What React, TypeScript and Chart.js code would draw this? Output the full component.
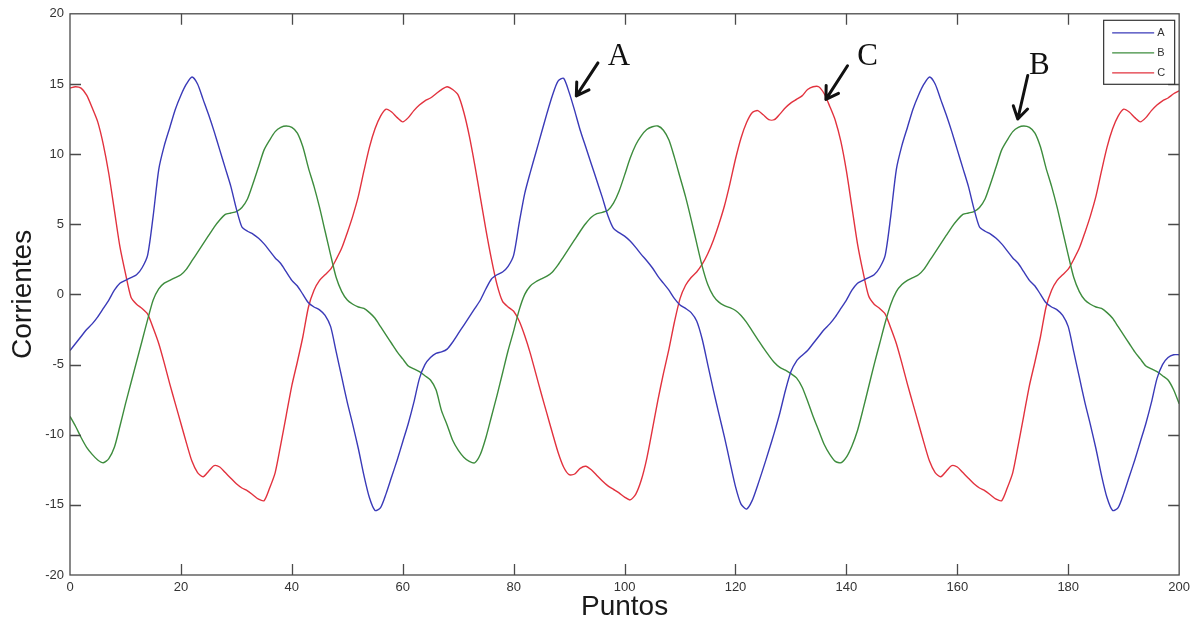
import React, { useEffect, useRef } from "react";
import { Chart, registerables } from "chart.js";

Chart.register(...registerables);

// ---- axis ranges / ticks ----
const X_MIN = 0;
const X_MAX = 200;
const X_STEP = 20;
const Y_MIN = -20;
const Y_MAX = 20;
const Y_STEP = 5;
const X_TITLE = "Puntos";
const Y_TITLE = "Corrientes";

// ---- series (one value per point, x = 0..200) ----
const SERIES_A = [
  -4.0, -3.5, -3.0, -2.5, -2.1, -1.6, -1.0, -0.4, 0.3, 0.8,
  1.0, 1.2, 1.4, 1.9, 2.8, 5.6, 8.9, 10.6, 11.9, 13.2,
  14.2, 15.0, 15.5, 15.0, 13.9, 12.8, 11.6, 10.3, 9.0, 7.7,
  6.1, 4.8, 4.5, 4.3, 4.0, 3.6, 3.1, 2.6, 2.2, 1.6,
  1.0, 0.6, 0.0, -0.6, -0.9, -1.1, -1.5, -2.3, -4.1, -5.9,
  -7.7, -9.3, -11.0, -12.9, -14.5, -15.4, -15.2, -14.2, -13.0, -11.8,
  -10.5, -9.2, -7.7, -6.0, -5.0, -4.5, -4.2, -4.1, -3.9, -3.4,
  -2.8, -2.2, -1.6, -1.0, -0.4, 0.4, 1.1, 1.4, 1.6, 2.0,
  2.8, 5.1, 7.2, 8.7, 10.1, 11.5, 12.9, 14.2, 15.2, 15.4,
  14.4, 13.1, 11.7, 10.5, 9.3, 8.1, 6.9, 5.6, 4.7, 4.4,
  4.15, 3.8, 3.35, 2.85, 2.4, 1.9, 1.3, 0.8, 0.3, -0.3,
  -0.75, -1.0, -1.3, -1.9, -3.2, -5.0, -6.8, -8.5, -10.15, -11.95,
  -13.7, -14.95, -15.3, -14.7, -13.6, -12.4, -11.15, -9.85, -8.45, -6.85,
  -5.5, -4.75, -4.35, -4.0, -3.5, -3.0, -2.5, -2.1, -1.6, -1.0,
  -0.4, 0.3, 0.8, 1.0, 1.2, 1.4, 1.9, 2.8, 5.6, 8.9,
  10.6, 11.9, 13.2, 14.2, 15.0, 15.5, 15.0, 13.9, 12.8, 11.6,
  10.3, 9.0, 7.7, 6.1, 4.8, 4.5, 4.3, 4.0, 3.6, 3.1,
  2.6, 2.2, 1.6, 1.0, 0.6, 0.0, -0.6, -0.9, -1.1, -1.5,
  -2.3, -4.1, -5.9, -7.7, -9.3, -11.0, -12.9, -14.5, -15.4, -15.2,
  -14.2, -13.0, -11.8, -10.5, -9.2, -7.7, -6.0, -5.0, -4.5, -4.3,
  -4.3,
];

const SERIES_B = [
  -8.7, -9.4, -10.2, -10.9, -11.4, -11.8, -12.0, -11.7, -10.9, -9.4,
  -7.8, -6.3, -4.8, -3.3, -1.8, -0.4, 0.4, 0.8, 1.0, 1.2,
  1.4, 1.8, 2.4, 3.0, 3.6, 4.2, 4.8, 5.3, 5.7, 5.8,
  5.9, 6.2, 6.8, 7.9, 9.1, 10.3, 11.0, 11.6, 11.9, 12.0,
  11.9, 11.5, 10.5, 9.0, 7.7, 6.2, 4.5, 2.8, 1.2, 0.2,
  -0.4, -0.7, -0.9, -1.0, -1.3, -1.7, -2.3, -2.9, -3.5, -4.1,
  -4.6, -5.1, -5.3, -5.5, -5.8, -6.1, -6.8, -8.3, -9.3, -10.4,
  -11.1, -11.6, -11.9, -12.0, -11.4, -10.2, -8.7, -7.2, -5.6, -4.0,
  -2.6, -1.1, 0.0, 0.6, 0.9, 1.1, 1.3, 1.6, 2.1, 2.7,
  3.3, 3.9, 4.5, 5.05, 5.5, 5.75, 5.85, 6.0, 6.5, 7.35,
  8.5, 9.7, 10.65, 11.3, 11.75, 11.95, 12.0, 11.7, 11.0, 9.75,
  8.35, 6.95, 5.35, 3.65, 2.0, 0.7, -0.1, -0.55, -0.8, -0.95,
  -1.15, -1.5, -2.0, -2.6, -3.2, -3.8, -4.35, -4.85, -5.2, -5.4,
  -5.65, -5.95, -6.6, -7.6, -8.7, -9.7, -10.7, -11.4, -11.9, -12.0,
  -11.6, -10.8, -9.7, -8.2, -6.6, -5.0, -3.5, -2.0, -0.7, 0.2,
  0.7, 1.0, 1.2, 1.4, 1.8, 2.4, 3.0, 3.6, 4.2, 4.8,
  5.3, 5.7, 5.8, 5.9, 6.2, 6.8, 7.9, 9.1, 10.3, 11.0,
  11.6, 11.9, 12.0, 11.9, 11.5, 10.5, 9.0, 7.7, 6.2, 4.5,
  2.8, 1.2, 0.2, -0.4, -0.7, -0.9, -1.0, -1.3, -1.7, -2.3,
  -2.9, -3.5, -4.1, -4.6, -5.1, -5.3, -5.5, -5.8, -6.1, -6.8,
  -7.8,
];

const SERIES_C = [
  14.7, 14.8, 14.7, 14.2, 13.3, 12.3, 10.7, 8.6, 6.0, 3.4,
  1.5, -0.2, -0.7, -1.0, -1.4, -2.4, -3.5, -4.9, -6.4, -7.8,
  -9.2, -10.6, -11.9, -12.7, -13.0, -12.6, -12.2, -12.3, -12.7, -13.1,
  -13.5, -13.8, -14.0, -14.3, -14.6, -14.7, -13.8, -12.7, -10.7, -8.6,
  -6.5, -4.8, -3.0, -0.9, 0.3, 1.0, 1.4, 1.8, 2.5, 3.3,
  4.4, 5.6, 7.0, 8.8, 10.5, 11.8, 12.7, 13.2, 13.0, 12.6,
  12.3, 12.6, 13.1, 13.5, 13.8, 14.0, 14.3, 14.6, 14.8, 14.6,
  14.2, 13.0, 11.3, 9.2, 6.9, 4.6, 2.5, 0.7, -0.5, -0.9,
  -1.2, -1.9, -2.95, -4.2, -5.65, -7.1, -8.5, -9.9, -11.25, -12.3,
  -12.85, -12.8, -12.4, -12.25, -12.5, -12.9, -13.3, -13.65, -13.9, -14.15,
  -14.45, -14.65, -14.25, -13.25, -11.7, -9.65, -7.55, -5.65, -3.9, -1.95,
  -0.3, 0.65, 1.2, 1.6, 2.15, 2.9, 3.85, 5.0, 6.3, 7.9,
  9.65, 11.15, 12.25, 12.95, 13.1, 12.8, 12.45, 12.45, 12.85, 13.3,
  13.65, 13.9, 14.15, 14.6, 14.8, 14.8, 14.3, 13.4, 12.4, 10.9,
  8.8, 6.2, 3.6, 1.6, -0.1, -0.7, -1.0, -1.4, -2.4, -3.5,
  -4.9, -6.4, -7.8, -9.2, -10.6, -11.9, -12.7, -13.0, -12.6, -12.2,
  -12.3, -12.7, -13.1, -13.5, -13.8, -14.0, -14.3, -14.6, -14.7, -13.8,
  -12.7, -10.7, -8.6, -6.5, -4.8, -3.0, -0.9, 0.3, 1.0, 1.4,
  1.8, 2.5, 3.3, 4.4, 5.6, 7.0, 8.8, 10.5, 11.8, 12.7,
  13.2, 13.0, 12.6, 12.3, 12.6, 13.1, 13.5, 13.8, 14.0, 14.3,
  14.5,
];

const SERIES_LABELS = ["A", "B", "C"];
const SERIES_COLORS = ["#3a3ab8", "#3d8c3d", "#e2323e"];

// ---- annotations (data coordinates) ----
const ARROW_LABELS = ["A", "C", "B"];
const ARROW_TAILS = [[95.2, 16.5], [140.2, 16.3], [172.7, 15.6]];
const ARROW_TIPS = [[91.3, 14.15], [136.3, 13.9], [170.9, 12.5]];
const ARROW_TEXT_POS = [[99.0, 16.95], [143.8, 16.9], [174.8, 16.3]];

const SANS = '"Liberation Sans", Arial, Helvetica, sans-serif';
const SERIF = '"Liberation Serif", "Times New Roman", serif';
const FRAME_COLOR = "#4a4a4a";
const TICK_LEN = 11;

function toPoints(values: number[]) {
  return values.map((v, i) => ({ x: X_MIN + i, y: v }));
}

const matlabPlugin = {
  id: "matlabDecor",
  afterDatasetsDraw(chart: any) {
    const { ctx, chartArea: ca, scales } = chart;
    const xs = scales.x;
    const ys = scales.y;
    ctx.save();

    // frame + inward ticks on all four sides
    ctx.strokeStyle = FRAME_COLOR;
    ctx.lineWidth = 1.3;
    ctx.strokeRect(ca.left, ca.top, ca.right - ca.left, ca.bottom - ca.top);
    ctx.beginPath();
    xs.ticks.forEach((t: any) => {
      if (t.value <= X_MIN || t.value >= X_MAX) return;
      const p = Math.round(xs.getPixelForValue(t.value)) + 0.5;
      ctx.moveTo(p, ca.bottom);
      ctx.lineTo(p, ca.bottom - TICK_LEN);
      ctx.moveTo(p, ca.top);
      ctx.lineTo(p, ca.top + TICK_LEN);
    });
    ys.ticks.forEach((t: any) => {
      if (t.value <= Y_MIN || t.value >= Y_MAX) return;
      const p = Math.round(ys.getPixelForValue(t.value)) + 0.5;
      ctx.moveTo(ca.left, p);
      ctx.lineTo(ca.left + TICK_LEN, p);
      ctx.moveTo(ca.right, p);
      ctx.lineTo(ca.right - TICK_LEN, p);
    });
    ctx.stroke();

    // legend box (top-right, inside the axes)
    const bw = 71;
    const bh = 64;
    const bx = ca.right - 76;
    const by = ca.top + 6;
    ctx.fillStyle = "#ffffff";
    ctx.fillRect(bx, by, bw, bh);
    ctx.strokeStyle = "#333333";
    ctx.lineWidth = 1.2;
    ctx.strokeRect(bx + 0.5, by + 0.5, bw, bh);
    ctx.font = `11px ${SANS}`;
    ctx.textBaseline = "middle";
    ctx.textAlign = "left";
    SERIES_LABELS.forEach((lab, i) => {
      const yy = by + 13 + i * 20;
      ctx.strokeStyle = SERIES_COLORS[i];
      ctx.lineWidth = 1.3;
      ctx.beginPath();
      ctx.moveTo(bx + 9, yy);
      ctx.lineTo(bx + 51, yy);
      ctx.stroke();
      ctx.fillStyle = "#333333";
      ctx.fillText(lab, bx + 54, yy);
    });

    // arrows + letters
    ctx.strokeStyle = "#111111";
    ctx.fillStyle = "#111111";
    ctx.lineWidth = 3;
    ctx.lineCap = "round";
    ctx.lineJoin = "round";
    ARROW_LABELS.forEach((lab, i) => {
      const tx = xs.getPixelForValue(ARROW_TAILS[i][0]);
      const ty = ys.getPixelForValue(ARROW_TAILS[i][1]);
      const hx = xs.getPixelForValue(ARROW_TIPS[i][0]);
      const hy = ys.getPixelForValue(ARROW_TIPS[i][1]);
      const ang = Math.atan2(hy - ty, hx - tx);
      const hl = 14;
      const spread = 0.55;
      ctx.beginPath();
      ctx.moveTo(tx, ty);
      ctx.lineTo(hx, hy);
      ctx.moveTo(hx - hl * Math.cos(ang - spread), hy - hl * Math.sin(ang - spread));
      ctx.lineTo(hx, hy);
      ctx.lineTo(hx - hl * Math.cos(ang + spread), hy - hl * Math.sin(ang + spread));
      ctx.stroke();
      ctx.font = `31px ${SERIF}`;
      ctx.textAlign = "center";
      ctx.textBaseline = "middle";
      ctx.fillText(
        lab,
        xs.getPixelForValue(ARROW_TEXT_POS[i][0]),
        ys.getPixelForValue(ARROW_TEXT_POS[i][1])
      );
    });

    ctx.restore();
  },
};

export default function App() {
  const canvasRef = useRef<HTMLCanvasElement | null>(null);

  useEffect(() => {
    if (!canvasRef.current) return;
    const datasets = [SERIES_A, SERIES_B, SERIES_C].map((vals, i) => ({
      label: SERIES_LABELS[i],
      data: toPoints(vals),
      borderColor: SERIES_COLORS[i],
      backgroundColor: SERIES_COLORS[i],
      borderWidth: 1.4,
      pointRadius: 0,
      tension: 0.25,
      fill: false,
    }));

    const chart = new Chart(canvasRef.current, {
      type: "line",
      data: { datasets },
      options: {
        animation: false,
        responsive: true,
        maintainAspectRatio: false,
        layout: { padding: { top: 13, right: 15, left: 0, bottom: 0 } },
        plugins: {
          legend: { display: false },
          tooltip: { enabled: false },
        },
        scales: {
          x: {
            type: "linear",
            min: X_MIN,
            max: X_MAX,
            grid: { display: false, drawTicks: false },
            border: { display: false },
            ticks: {
              stepSize: X_STEP,
              padding: 5,
              color: "#333333",
              font: { family: SANS, size: 13 },
              maxRotation: 0,
            },
            title: {
              display: true,
              text: X_TITLE,
              color: "#1a1a1a",
              font: { family: SANS, size: 28 },
              padding: { top: 0, bottom: 3 },
            },
            afterFit: (scale: any) => {
              scale.height = 52;
            },
          },
          y: {
            type: "linear",
            min: Y_MIN,
            max: Y_MAX,
            grid: { display: false, drawTicks: false },
            border: { display: false },
            ticks: {
              stepSize: Y_STEP,
              padding: 6,
              color: "#333333",
              font: { family: SANS, size: 13 },
            },
            title: {
              display: true,
              text: Y_TITLE,
              color: "#1a1a1a",
              font: { family: SANS, size: 28 },
              padding: { top: 6, bottom: 0 },
            },
            afterFit: (scale: any) => {
              scale.width = 70;
            },
          },
        },
      },
      plugins: [matlabPlugin],
    });
    return () => chart.destroy();
  }, []);

  return (
    <div
      style={{
        position: "fixed",
        left: 0,
        top: 0,
        width: 1195,
        height: 627,
        background: "#ffffff",
      }}
    >
      <canvas ref={canvasRef} />
    </div>
  );
}
